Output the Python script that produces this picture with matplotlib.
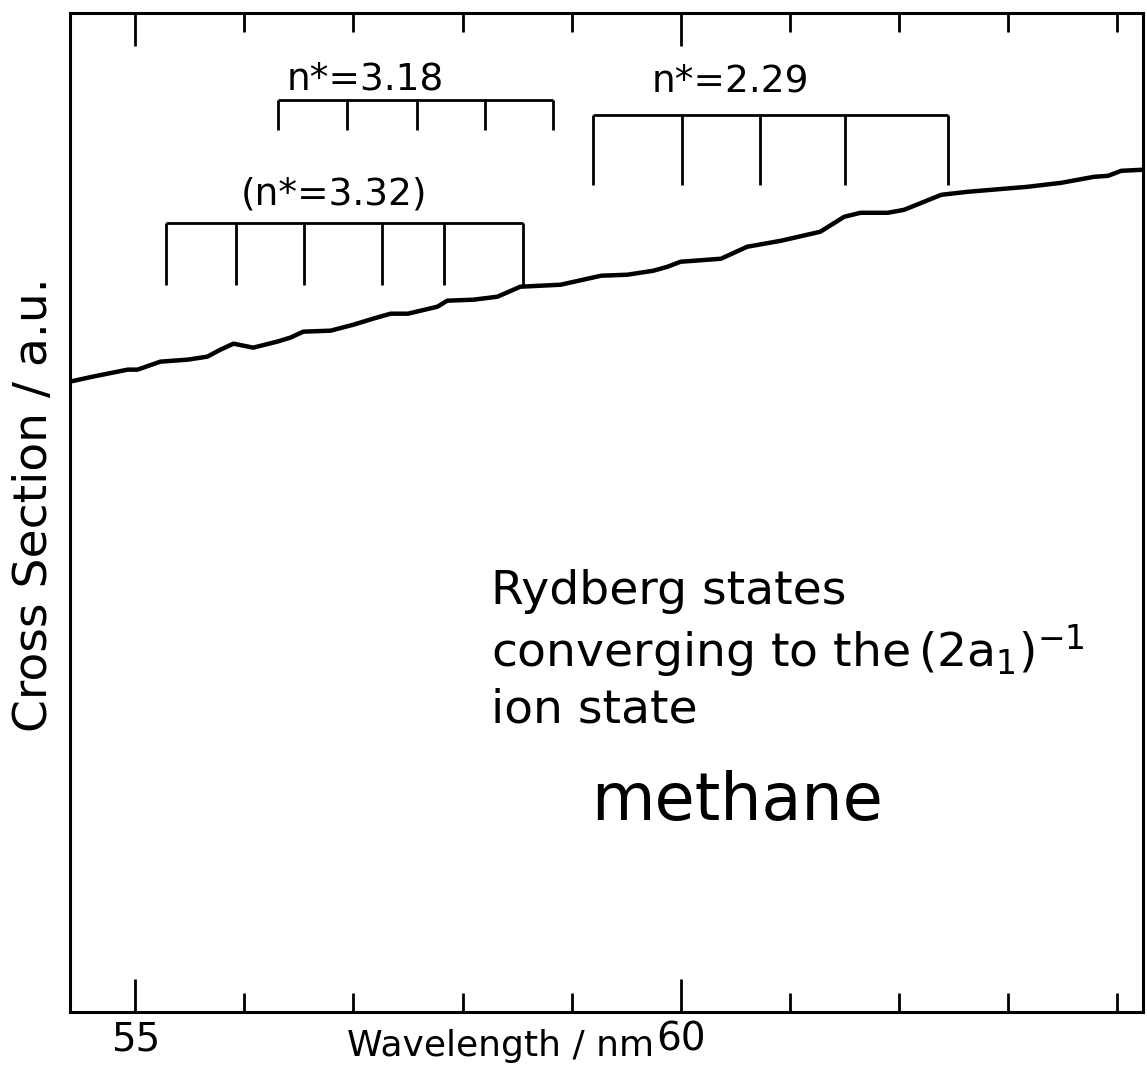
import numpy as np
import matplotlib
matplotlib.use("Agg")
import matplotlib.pyplot as plt
from matplotlib.ticker import MultipleLocator

# photoabsorption cross section of methane
wavelength = [54.40, 54.61, 54.93, 55.02, 55.23, 55.48, 55.66, 55.78, 55.90, 56.08,
              56.30, 56.42, 56.54, 56.79, 57.00, 57.18, 57.34, 57.50, 57.77, 57.86,
              58.10, 58.32, 58.53, 58.90, 59.27, 59.51, 59.75, 59.88, 60.00, 60.37,
              60.61, 60.92, 61.04, 61.28, 61.50, 61.65, 61.90, 62.05, 62.39, 62.63,
              63.18, 63.49, 63.79, 63.92, 64.04, 64.22]
cross_section = [0.631, 0.636, 0.643, 0.643, 0.651, 0.653, 0.656, 0.663, 0.669, 0.665,
                 0.671, 0.675, 0.681, 0.682, 0.688, 0.694, 0.699, 0.699, 0.706, 0.712,
                 0.713, 0.716, 0.726, 0.728, 0.737, 0.738, 0.742, 0.746, 0.751, 0.754,
                 0.766, 0.772, 0.775, 0.781, 0.796, 0.800, 0.800, 0.803, 0.818, 0.821,
                 0.826, 0.830, 0.836, 0.837, 0.842, 0.843]

# Rydberg series markers
series_labels = ["(n*=3.32)", "n*=3.18", "n*=2.29"]
series_lines = [[55.28, 55.92, 56.55, 57.26, 57.83, 58.55],
                [56.31, 56.94, 57.58, 58.21, 58.83],
                [59.20, 60.01, 60.73, 61.51, 62.45]]
series_top = [0.790, 0.913, 0.898]
series_bottom = [0.728, 0.883, 0.828]
label_x = [56.82, 57.11, 60.46]
label_y = [0.818, 0.933, 0.931]

fig = plt.figure(figsize=(11.47, 10.65), dpi=100)
ax = fig.add_axes([0.061, 0.0498, 0.9355, 0.938])

ax.plot(wavelength, cross_section, color="black", lw=3.2)

for i in range(len(series_labels)):
    xs = series_lines[i]
    ax.hlines(series_top[i], xs[0], xs[-1], color="black", lw=2)
    ax.vlines(xs, series_bottom[i], series_top[i], color="black", lw=2)
    ax.text(label_x[i], label_y[i], series_labels[i], ha="center", va="center",
            fontsize=27)

ax.set_xlim(54.40, 64.24)
ax.set_ylim(0, 1)
ax.xaxis.set_major_locator(MultipleLocator(5))
ax.xaxis.set_minor_locator(MultipleLocator(1))
ax.set_yticks([])
ax.tick_params(axis="x", which="major", direction="in", length=24, width=2,
               top=True, labelsize=28, pad=6)
ax.tick_params(axis="x", which="minor", direction="in", length=14, width=2, top=True)
for s in ax.spines.values():
    s.set_linewidth(2.2)

fig.text(0.436, 0.002, "Wavelength / nm", ha="center", va="bottom", fontsize=26)
fig.text(0.0305, 0.526, "Cross Section / a.u.", ha="center", va="center",
         rotation=90, fontsize=34)

ax.text(0.392, 0.362, "Rydberg states\nconverging to the$\\,(2\\mathrm{a}_1)^{-1}$\nion state",
        transform=ax.transAxes, ha="left", va="center", fontsize=34, linespacing=1.2)
ax.text(0.622, 0.21, "methane", transform=ax.transAxes, ha="center", va="center",
        fontsize=47)

fig.savefig("out.png", dpi=100)
